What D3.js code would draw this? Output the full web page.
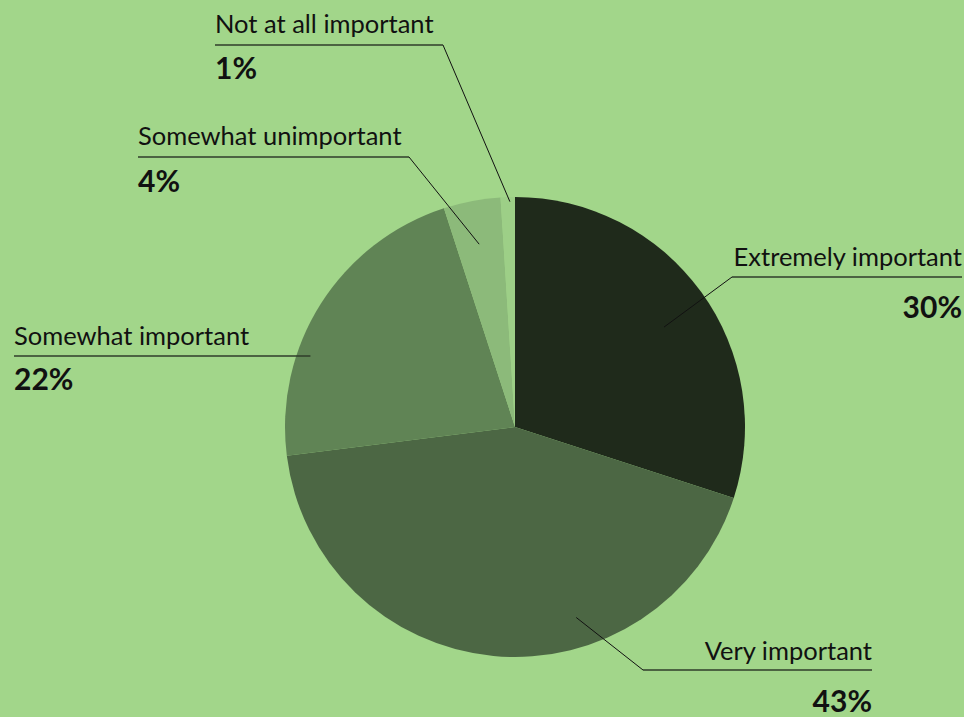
<!DOCTYPE html>
<html>
<head>
<meta charset="utf-8">
<script src="https://cdn.jsdelivr.net/npm/d3@7"></script>
<style>
  html, body { margin: 0; padding: 0; background: #a2d68a; }
  svg { display: block; }
</style>
</head>
<body>
<svg id="chart" width="964" height="717"></svg>
<script>
const categories = [
  "Extremely important",
  "Very important",
  "Somewhat important",
  "Somewhat unimportant",
  "Not at all important",
];
const shares = [30, 43, 22, 4, 1];
const sliceColors = ["#1f2a1b", "#4c6744", "#608455", "#8cba7a", "#9dcf87"];

// where each callout sits (pixels) and where its leader meets the slice
const callouts = [
  { t: 0.52, k: 0.78, elbow: [732, 277], end: 962, align: "end", labelY: 266, pctY: 318 },
  { t: 0.35, k: 0.87, elbow: [643, 670], end: 872, align: "end", labelY: 660, pctY: 712 },
  { t: 0.34, k: 0.945, elbow: null, y: 356, end: 14, align: "start", labelY: 345, pctY: 390 },
  { t: 0.48, k: 0.81, elbow: [409, 157], end: 138, align: "start", labelY: 145, pctY: 192 },
  { t: 0.64, k: 0.98, elbow: [443, 45], end: 215, align: "start", labelY: 33, pctY: 79 },
];

const cx = 515, cy = 427, radius = 230;

const svg = d3.select("#chart");
svg.append("rect").attr("width", 964).attr("height", 717).attr("fill", "#a2d68a");

const data = categories.map((c, i) => ({ name: c, value: shares[i], color: sliceColors[i] }));

const pie = d3.pie().sort(null).value(d => d.value);
const arcs = pie(data);
const arc = d3.arc().innerRadius(0).outerRadius(radius);

const g = svg.append("g").attr("transform", `translate(${cx},${cy})`);

g.selectAll("path.slice")
  .data(arcs)
  .enter()
  .append("path")
  .attr("class", "slice")
  .attr("fill", d => d.data.color)
  .attr("d", arc);

// leader lines + labels
arcs.forEach((a, i) => {
  const c = callouts[i];
  const ang = a.startAngle + c.t * (a.endAngle - a.startAngle);
  const px = cx + Math.sin(ang) * radius * c.k;
  const py = cy - Math.cos(ang) * radius * c.k;
  let ex, ey;
  if (c.elbow) {
    ex = c.elbow[0]; ey = c.elbow[1];
    svg.append("line")
      .attr("x1", px).attr("y1", py).attr("x2", ex).attr("y2", ey)
      .attr("stroke", "#111").attr("stroke-width", 1);
  } else {
    ex = px; ey = c.y;
  }
  svg.append("line")
    .attr("x1", ex).attr("y1", ey).attr("x2", c.end).attr("y2", ey)
    .attr("stroke", "#2f3d2a").attr("stroke-width", 1.6);

  svg.append("text")
    .attr("x", c.end).attr("y", c.labelY)
    .attr("text-anchor", c.align)
    .attr("font-family", "Lato, 'Open Sans', sans-serif")
    .attr("font-size", 25.5)
    .attr("fill", "#111")
    .text(a.data.name);

  svg.append("text")
    .attr("x", c.end).attr("y", c.pctY)
    .attr("text-anchor", c.align)
    .attr("font-family", "Lato, 'Open Sans', sans-serif")
    .attr("font-weight", "bold")
    .attr("font-size", 30)
    .attr("fill", "#111")
    .text(a.data.value + "%");
});
</script>
</body>
</html>
